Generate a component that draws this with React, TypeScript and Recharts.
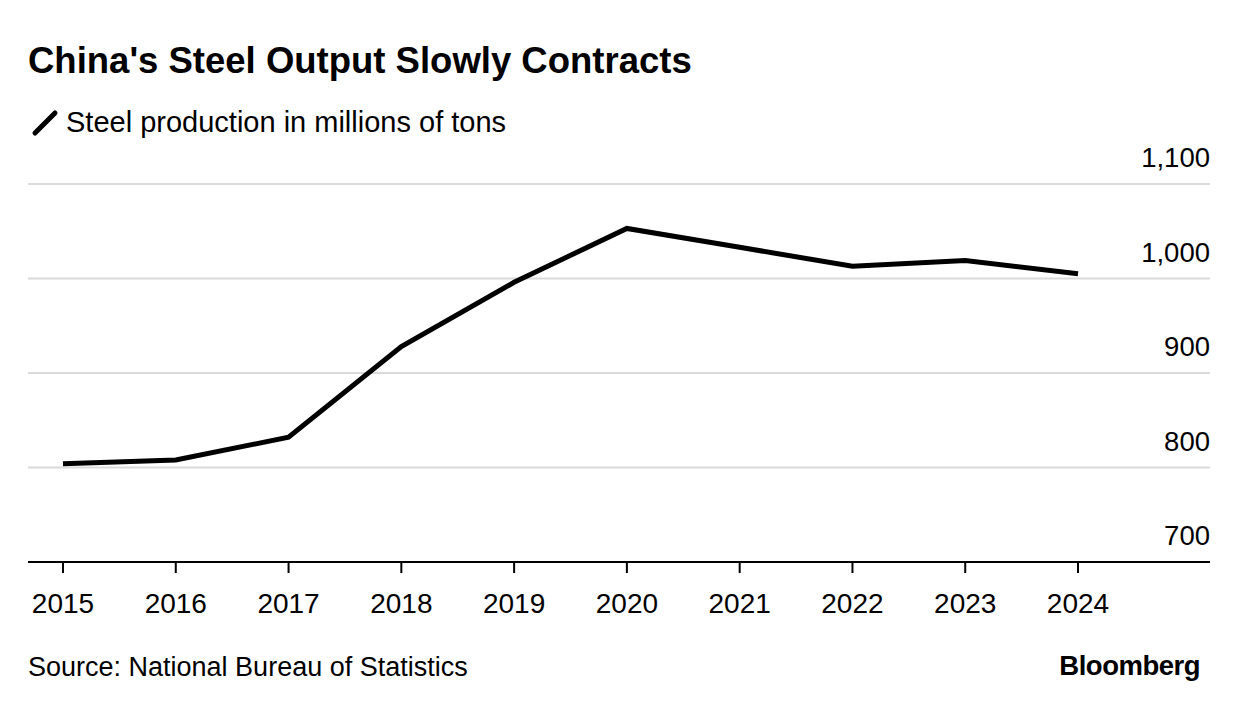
import React from 'react';
import { LineChart, Line, XAxis, YAxis, CartesianGrid } from 'recharts';

const years = [2015, 2016, 2017, 2018, 2019, 2020, 2021, 2022, 2023, 2024];
const steelOutput = [804, 808, 832, 928, 996, 1053, 1033, 1013, 1019, 1005];
const yTicks = [700, 800, 900, 1000, 1100];

const data = years.map((year, i) => ({ year, output: steelOutput[i] }));

const FONT = '"Liberation Sans", Arial, sans-serif';

const fmt = (v: number) => v.toLocaleString('en-US');

const YTick = (props: any) => {
  const { y, payload } = props;
  return (
    <text x={1210} y={y - 17} textAnchor="end" fill="#000" fontSize={27.5} fontFamily={FONT}>
      {fmt(payload.value)}
    </text>
  );
};

const XTick = (props: any) => {
  const { x, y, payload } = props;
  return (
    <text x={x} y={y + 38} textAnchor="middle" fill="#000" fontSize={28} fontFamily={FONT}>
      {payload.value}
    </text>
  );
};

export default function App() {
  return (
    <div style={{ position: 'absolute', left: 0, top: 0, width: 1240, height: 728, background: '#fff', fontFamily: FONT, color: '#000' }}>
      <div style={{ position: 'absolute', left: 28, top: 40, fontSize: 36.5, fontWeight: 700, whiteSpace: 'nowrap' }}>
        China's Steel Output Slowly Contracts
      </div>
      <div style={{ position: 'absolute', left: 30, top: 106, fontSize: 29, whiteSpace: 'nowrap', display: 'flex', alignItems: 'center' }}>
        <svg width={30} height={30} style={{ marginRight: 6 }}>
          <line x1={5} y1={25} x2={25} y2={5} stroke="#000" strokeWidth={5} strokeLinecap="round" />
        </svg>
        Steel production in millions of tons
      </div>
      <div style={{ position: 'absolute', left: 0, top: 0 }}>
        <LineChart width={1240} height={640} data={data} margin={{ top: 184, right: 29, left: 28, bottom: 0 }}>
          <CartesianGrid horizontal vertical={false} stroke="#dadada" strokeWidth={2} />
          <XAxis
            dataKey="year"
            type="number"
            domain={[2015, 2024]}
            ticks={years}
            padding={{ left: 35, right: 132 }}
            height={78}
            axisLine={{ stroke: '#000', strokeWidth: 2 }}
            tickLine={{ stroke: '#000', strokeWidth: 2 }}
            tickSize={11}
            tick={<XTick />}
            interval={0}
          />
          <YAxis
            orientation="right"
            width={1}
            domain={[700, 1100]}
            ticks={yTicks}
            axisLine={false}
            tickLine={false}
            tick={<YTick />}
            interval={0}
          />
          <Line
            type="linear"
            dataKey="output"
            stroke="#000"
            strokeWidth={5}
            dot={false}
            isAnimationActive={false}
          />
        </LineChart>
      </div>
      <div style={{ position: 'absolute', left: 28, top: 652, fontSize: 27, whiteSpace: 'nowrap' }}>
        Source: National Bureau of Statistics
      </div>
      <div style={{ position: 'absolute', right: 40, top: 650, fontSize: 27.5, fontWeight: 700, letterSpacing: -0.5, whiteSpace: 'nowrap' }}>
        Bloomberg
      </div>
    </div>
  );
}
